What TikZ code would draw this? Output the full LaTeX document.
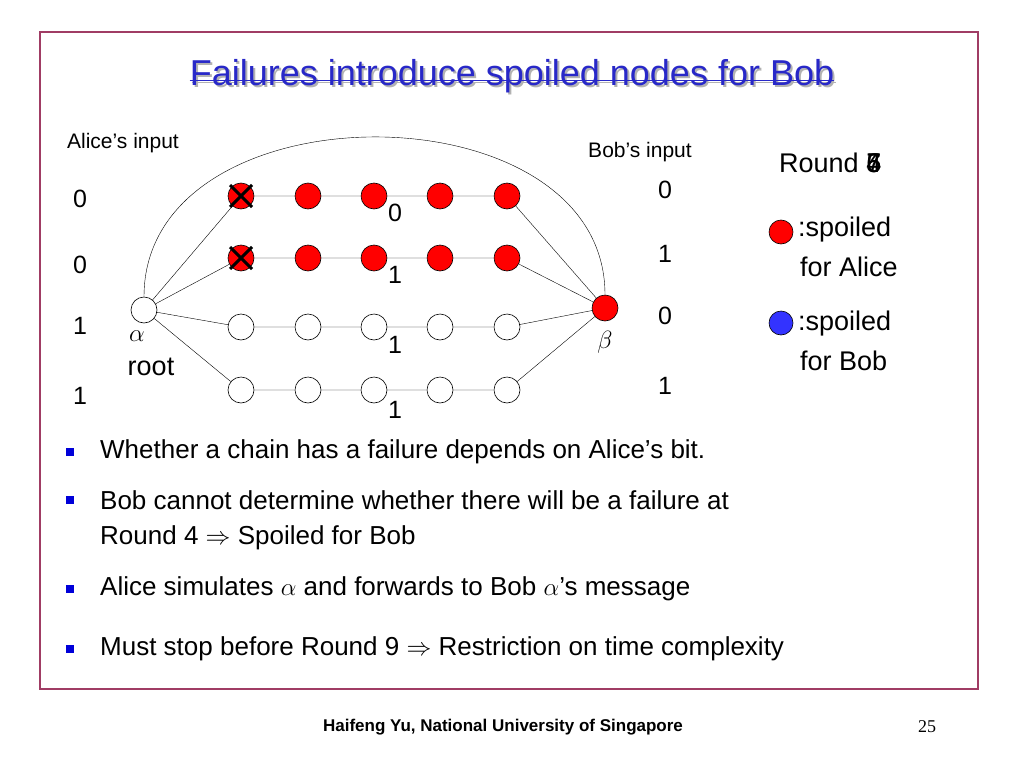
\documentclass[tikz,border=0pt]{standalone}
\usepackage{fontspec}
\setmainfont{Liberation Sans}
\newfontfamily\serifx{Liberation Serif}
\definecolor{tblue}{RGB}{40,40,200}
\definecolor{frame}{RGB}{160,60,100}
\begin{document}
\begin{tikzpicture}[x=1pt,y=-1pt,
  nd/.style={circle,draw,minimum size=26pt,inner sep=0pt,line width=0.6pt},
  red/.style={nd,fill=red},
  wn/.style={nd,fill=white},
  lab/.style={font=\fontsize{25}{25}\selectfont,inner sep=0pt},
  sm/.style={font=\fontsize{21}{21}\selectfont,inner sep=0pt},
  bul/.style={font=\fontsize{26}{26}\selectfont,inner sep=0pt,anchor=west},
  bsq/.style={fill=blue!85!black,minimum size=8pt,inner sep=0pt}]
\useasboundingbox (0,0) rectangle (1024,768);
\draw[line width=1.5pt,draw=frame] (40,32) rectangle (978,689);
\node[font=\fontsize{36}{36}\selectfont,text=gray!60,inner sep=0pt] (tsh) at (514,78) {Failures introduce spoiled nodes for Bob};
\draw[gray!60,line width=1.5pt] ([yshift=5]tsh.base west) -- ([yshift=5]tsh.base east);
\node[font=\fontsize{36}{36}\selectfont,text=tblue,inner sep=0pt] (title) at (512,76) {Failures introduce spoiled nodes for Bob};
\draw[tblue,line width=1.5pt] ([yshift=5]title.base west) -- ([yshift=5]title.base east);
% graph
\node[wn] (a) at (144,310) {};
\node[red] (b) at (605,308) {};
\foreach \r/\y/\s in {1/196/red,2/258/red,3/327/wn,4/390/wn}{
  \foreach \c/\x in {1/241,2/308,3/374,4/440,5/507}{
    \node[\s] (n\r\c) at (\x,\y) {};
  }
  \draw (a) -- (n\r1) -- (n\r2) -- (n\r3) -- (n\r4) -- (n\r5) -- (b);
}
\foreach \r in {1,2}{
  \draw[line width=3pt] ([shift={(-11,-11)}]n\r1.center) -- ([shift={(11,11)}]n\r1.center);
  \draw[line width=3pt] ([shift={(11,-11)}]n\r1.center) -- ([shift={(-11,11)}]n\r1.center);
}
\draw (a.north) .. controls (144,84) and (605,84) .. (b.north);
\node[lab] (m1) at (395,213) {0};
\node[lab] (m2) at (395,275) {1};
\node[lab] (m3) at (395,345) {1};
\node[lab] (m4) at (395,410) {1};
\node[lab] (l1) at (80,199) {0};
\node[lab] (l2) at (80,265) {0};
\node[lab] (l3) at (80,326) {1};
\node[lab] (l4) at (80,396) {1};
\node[lab] (r1) at (665,190) {0};
\node[lab] (r2) at (665,254) {1};
\node[lab] (r3) at (665,316) {0};
\node[lab] (r4) at (665,386) {1};
\node[sm] (ai) at (123,143) {Alice’s input};
\node[sm] (bi) at (640,152) {Bob’s input};
\node[lab,font=\serifx\fontsize{27}{27}\selectfont] (al) at (137,336) {$\alpha$};
\node[lab,font=\fontsize{27}{27}\selectfont] (root) at (151,367) {root};
\node[lab,font=\fontsize{27}{27}\selectfont] (be) at (605,342) {$\beta$};
% legend
\node[lab,font=\fontsize{27}{27}\selectfont,anchor=west] (rd) at (779,163) {Round \phantom{4}};
\foreach \d in {4,5,6,7}{\node[lab,font=\fontsize{27}{27}\selectfont,anchor=east] at (rd.east) {\d};}
\node[red,minimum size=24pt] (lr) at (781,232) {};
\node[lab,font=\fontsize{27}{27}\selectfont,anchor=west] (s1) at (798,230) {:spoiled};
\node[lab,font=\fontsize{27}{27}\selectfont,anchor=west] (s2) at (800,267) {for Alice};
\node[nd,fill=blue!80,minimum size=24pt] (lb) at (781,323) {};
\node[lab,font=\fontsize{27}{27}\selectfont,anchor=west] (s3) at (798,324) {:spoiled};
\node[lab,font=\fontsize{27}{27}\selectfont,anchor=west] (s4) at (800,361) {for Bob};
% bullets
\node[bsq] (q1) at (70,452) {}; \node[bul] (t1) at (100,452) {Whether a chain has a failure depends on Alice’s bit.};
\node[bsq] (q2) at (70,500) {}; \node[bul] (t2) at (100,500) {Bob cannot determine whether there will be a failure at};
\node[bul] (t2b) at (100,538) {Round 4 $\Rightarrow$ Spoiled for Bob};
\node[bsq] (q3) at (70,589) {}; \node[bul] (t3) at (100,589) {Alice simulates $\alpha$ and forwards to Bob $\alpha$’s message};
\node[bsq] (q4) at (70,649) {}; \node[bul] (t4) at (100,649) {Must stop before Round 9 $\Rightarrow$ Restriction on time complexity};
\node[font=\bfseries\fontsize{17}{17}\selectfont,inner sep=0pt] (ft) at (503,727) {Haifeng Yu, National University of Singapore};
\node[font=\serifx\fontsize{18}{18}\selectfont,inner sep=0pt] (pg) at (927,727) {25};
\end{tikzpicture}
\end{document}
